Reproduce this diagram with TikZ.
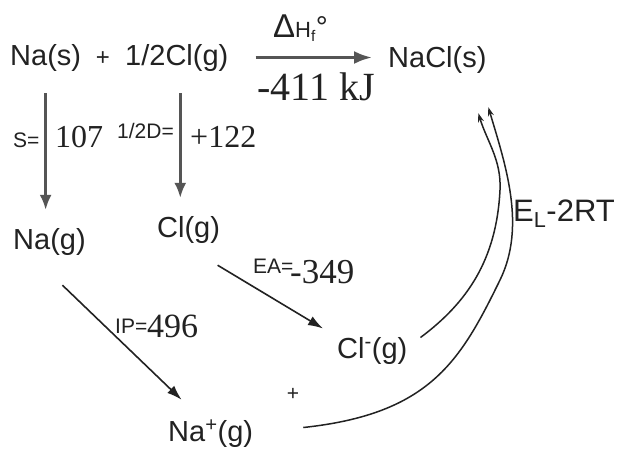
\documentclass[tikz,border=0pt]{standalone}
\usepackage{fontspec}
\setmainfont{Liberation Sans}
\newfontfamily\serifnum{Liberation Serif}
\usetikzlibrary{arrows.meta,calc}
\definecolor{ink}{HTML}{222222}
\definecolor{grayarrow}{HTML}{555555}
\newcommand\fsz[1]{\fontsize{#1}{#1}\selectfont}
\begin{document}
\begin{tikzpicture}[x=1pt,y=-1pt,
  lbl/.style={inner sep=0pt, anchor=base west, text=ink, font=\fsz{29}},
  small/.style={inner sep=0pt, anchor=base west, text=ink, font=\fsz{21}},
  num/.style={inner sep=0pt, anchor=base west, text=ink, font=\serifnum\fsz{32}},
  vert/.style={draw=grayarrow, line width=2.5pt, -{Latex[length=15pt,width=12pt]}},
  horiz/.style={draw=grayarrow, line width=3pt, -{Latex[length=18pt,width=13pt]}},
  diag/.style={draw=ink, line width=1.6pt, -{Latex[length=15pt,width=10pt]}},
  curve/.style={draw=ink, line width=1.5pt, -{Stealth[length=9pt,width=6pt]}},
]
\fill[white] (0,0) rectangle (624,448);
\useasboundingbox (0,0) rectangle (624,448);

% species
\node[lbl] (nas) at (10,65) {Na(s)};
\node[lbl, font=\fsz{24}, anchor=base] (plus1) at (103,65) {+};
\node[lbl] (halfcl) at (125,65) {1/2Cl(g)};
\node[lbl] (nacl) at (388,67) {NaCl(s)};
\node[lbl] (nag) at (13,249) {Na(g)};
\node[lbl] (clg) at (157,237) {Cl(g)};
\node[lbl] (clm) at (337,358) {Cl\textsuperscript{-}(g)};
\node[lbl] (nap) at (168,441) {Na\textsuperscript{+}(g)};
\node[lbl, font=\fsz{31}] (el) at (513,221) {E\textsubscript{L}-2RT};
\node[small, anchor=base] (plus2) at (293,400) {+};

% labels
\node[inner sep=0pt, anchor=base west, text=ink] (dh) at (273,37)
  {{\fsz{33}Δ}{\fsz{22}H\textsubscript{f}}{\fsz{30}°}};
\node[num, font=\serifnum\fsz{40}] (dhv) at (257,100) {-411 kJ};
\node[small] (slbl) at (13,147) {S=};
\node[num] (sval) at (55,147) {107};
\node[small] (dlbl) at (117,138) {1/2D=};
\node[num] (dval) at (190,147) {+122};
\node[small] (ealbl) at (253,273) {EA=};
\node[num, font=\serifnum\fsz{35}] (eaval) at (290,283) {-349};
\node[small] (iplbl) at (115,333) {IP=};
\node[num, font=\serifnum\fsz{34}] (ipval) at (147,337) {496};

% connectors
\coordinate (clt) at ($(halfcl.south)+(3.5,0)$);
\draw[horiz, shorten <=27pt, shorten >=16pt] (halfcl.east) -- (halfcl.east -| nacl.west);
\draw[vert, shorten <=22pt, shorten >=18pt] (nas.south) -- (nas.south |- nag.north);
\draw[vert, shorten <=22pt, shorten >=18pt] (clt) -- (clt |- clg.north);
\draw[diag] ($(nag.south)+(13,30)$) -- ($(nap.north)+(-29,-20)$);
\draw[diag] ($(clg.south)+(29,22)$) -- ($(clm.west)+(-14,-22)$);

\draw[curve] ($(clm.east)+(13,-13)$) .. controls (467,302.8) and (496.5,260) .. (500,190)
   .. controls (501.5,160) and (487,141.5) .. ($(nacl.south)+(41,40)$);
\draw[curve] ($(nap.east)+(50,-6)$) .. controls (430,414) and (460.4,361) .. (500,280)
   .. controls (526.4,226) and (505.4,164.6) .. ($(nacl.south)+(51,34)$);
\end{tikzpicture}
\end{document}
